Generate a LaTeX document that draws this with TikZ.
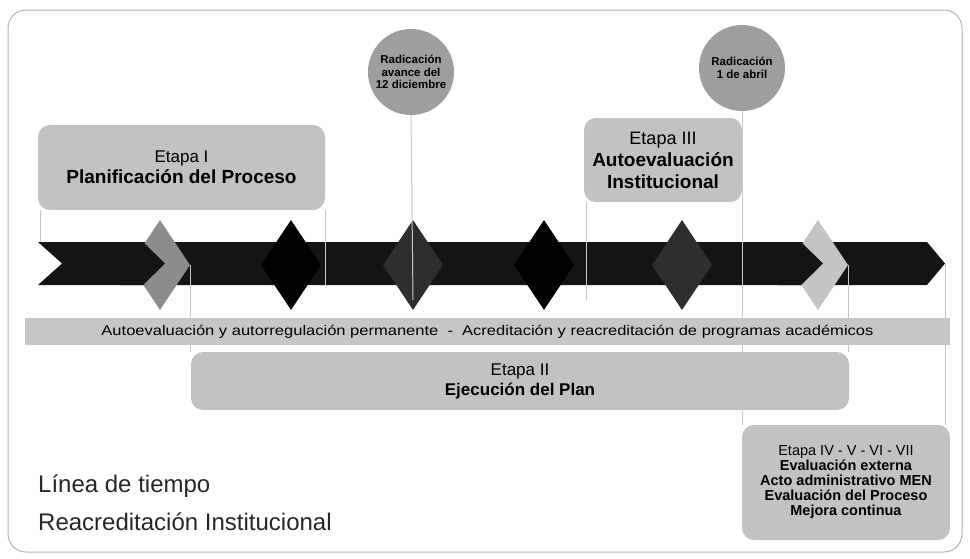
\documentclass[tikz,border=0pt]{standalone}
\usepackage{fontspec}
\setmainfont{Liberation Sans}
\usetikzlibrary{shapes.geometric}
\definecolor{boxgray}{HTML}{C2C2C2}
\definecolor{bandgray}{HTML}{C6C6C6}
\definecolor{circgray}{HTML}{9E9E9E}
\definecolor{barblack}{HTML}{141414}
\definecolor{darkgem}{HTML}{2E2E2E}
\definecolor{chevgray}{HTML}{8C8C8C}
\definecolor{chevlight}{HTML}{C4C4C4}
\definecolor{stemgray}{HTML}{C8C8C8}
\definecolor{framegray}{HTML}{B4B4B4}
\definecolor{titlegray}{HTML}{262626}
\pgfdeclarelayer{back}
\pgfdeclarelayer{mid}
\pgfsetlayers{back,mid,main}
\begin{document}
\begin{tikzpicture}[x=1pt,y=-1pt,
  stage/.style={fill=boxgray, rounded corners=12pt, align=center, inner sep=0pt},
  gem/.style={diamond, minimum width=60pt, minimum height=90pt, inner sep=0pt},
  stem/.style={draw=stemgray, line width=1pt},
  badge/.style={circle, minimum size=86pt, inner sep=0pt, fill=circgray, align=center,
    font=\fontsize{11.5}{12.5}\selectfont\bfseries},
  title/.style={anchor=base west, text=titlegray, font=\fontsize{24}{28}\selectfont, inner sep=0pt}]
\useasboundingbox (0,0) rectangle (970,558);
% frame
\draw[framegray, line width=1pt, rounded corners=18pt] (8,10) rectangle (962,552);

% stage boxes
\node[stage, minimum width=287pt, minimum height=85pt, font=\fontsize{17}{21}\selectfont] (e1) at (181.5,167.5)
  {Etapa I\\\fontsize{19}{21}\selectfont\bfseries Planificación del Proceso};
\node[stage, minimum width=158pt, minimum height=84pt, font=\fontsize{18}{22}\selectfont] (e3) at (663,160)
  {Etapa III\\\fontsize{19}{22}\selectfont\bfseries Autoevaluación\\\fontsize{19}{22}\selectfont\bfseries Institucional};
\node[stage, minimum width=658pt, minimum height=58pt, font=\fontsize{17}{20}\selectfont] (e2) at (520,381)
  {Etapa II\\\bfseries Ejecución del Plan};
\node[stage, minimum width=208pt, minimum height=115pt, font=\fontsize{14.5}{15}\selectfont] (e4) at (846,482.5)
  {Etapa IV - V - VI - VII\\\textbf{Evaluación externa}\\\textbf{Acto administrativo MEN}\\\textbf{Evaluación del Proceso}\\\textbf{Mejora continua}};

% milestone badges
\node[badge] (c1) at (411,72) {Radicación\\avance del\\12 diciembre};
\node[badge] (c2) at (742,68) {Radicación\\1 de abril};

% band
\node[fill=bandgray, minimum width=925pt, minimum height=27pt, inner sep=0pt] (band) at (487.5,331.5)
  {\resizebox{772pt}{\height}{\fontsize{14}{16}\selectfont Autoevaluación y autorregulación permanente \ - \ Acreditación y reacreditación de programas académicos}};

\begin{pgfonlayer}{back}
% timeline bar
\fill[barblack] (38,242) -- (927,242) -- (945,263.5) -- (927,285) -- (38,285) -- (62,263.5) -- cycle;
\coordinate (tip) at (945,263.5);
% diamonds
\node[gem, fill=chevgray] (d1) at (160,265) {};
\node[gem, fill=black] (d2) at (291,265) {};
\node[gem, fill=darkgem] (d3) at (413,265) {};
\node[gem, fill=black] (d4) at (544,265) {};
\node[gem, fill=darkgem] (d5) at (682,265) {};
\node[gem, fill=chevlight] (d6) at (818,265) {};
\fill[barblack] (120,242) -- (143,242) -- (165,263.5) -- (143,285) -- (120,285) -- cycle;
\fill[barblack] (778,242) -- (801,242) -- (823,263.5) -- (801,285) -- (778,285) -- cycle;
\end{pgfonlayer}

% stems
\begin{pgfonlayer}{mid}
\coordinate (b1) at (40,242);
\coordinate (b2) at (325,285);
\coordinate (b3) at (413,300);
\coordinate (b4) at (586,300);
\draw[stem] (e1.south -| b1) -- (b1);
\draw[stem] (e1.south -| b2) -- (b2);
\draw[stem] (c1.south) -- (b3);
\draw[stem] (e3.south -| b4) -- (b4);
\draw[stem] (c2.south) -- (c2.south |- e4.north);
\draw[stem] (d1.east) -- (d1.east |- e2.north);
\draw[stem] (d6.east) -- (d6.east |- e2.north);
\draw[stem] (tip) -- (tip |- e4.north);
\end{pgfonlayer}

% title
\node[title] (t1) at (38,492) {Línea de tiempo};
\node[title] (t2) at (38,530) {Reacreditación Institucional};
\end{tikzpicture}
\end{document}
